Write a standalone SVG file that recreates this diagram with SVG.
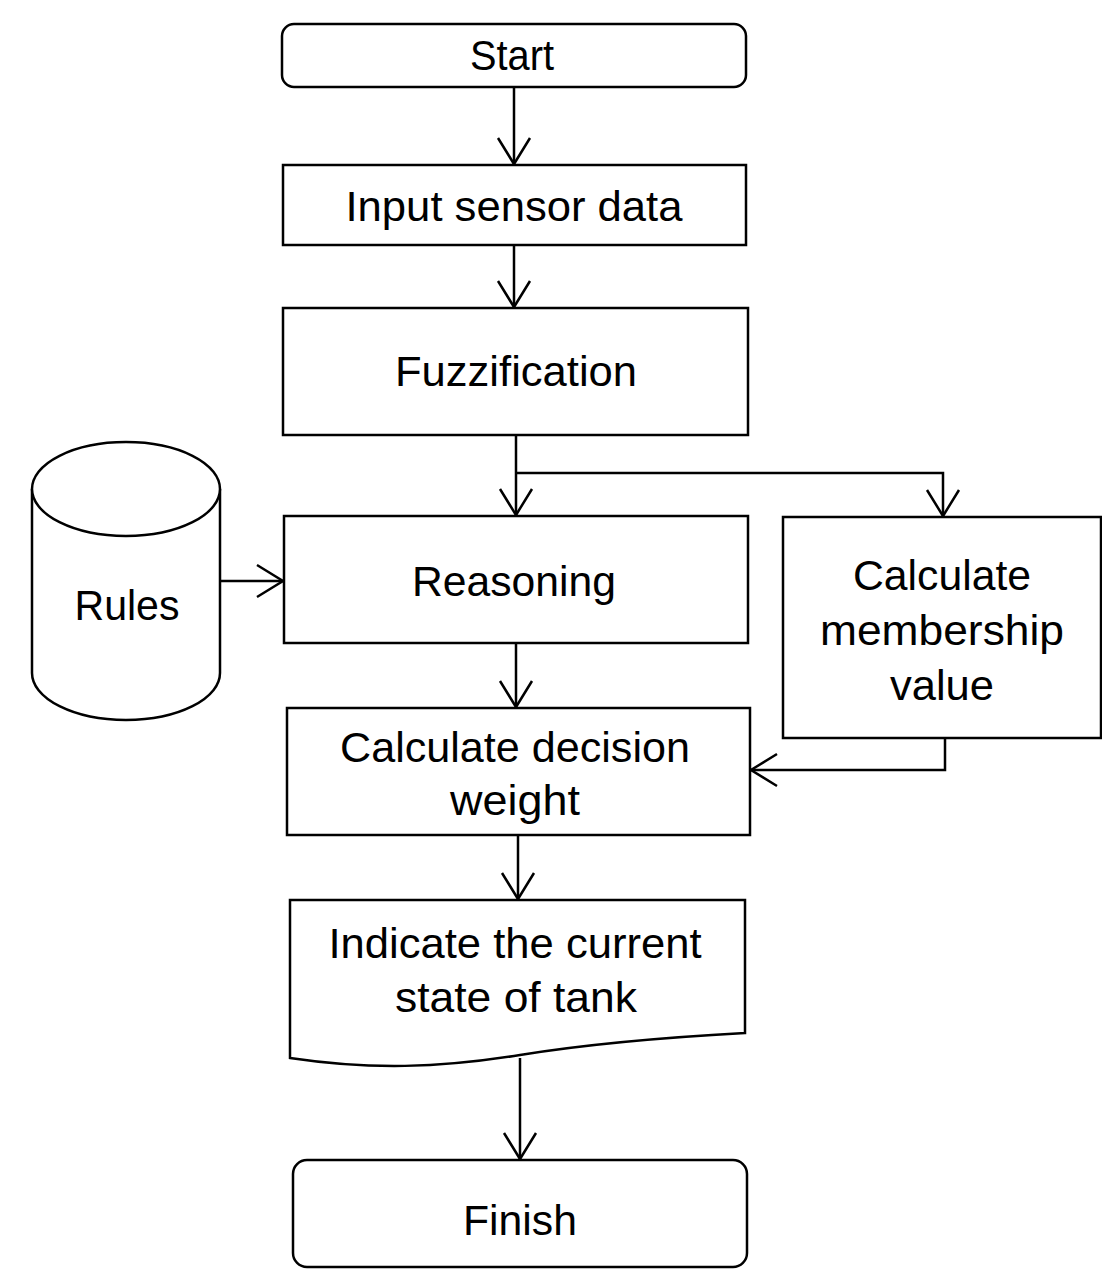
<svg xmlns="http://www.w3.org/2000/svg" width="1102" height="1269" viewBox="0 0 1102 1269">
<style>
.box{fill:#fff;stroke:#000;stroke-width:2.5}
.ln{fill:none;stroke:#000;stroke-width:2.5}
.t{font-family:"Liberation Sans",Arial,sans-serif;font-size:42px;fill:#000;text-anchor:middle}
</style>
<defs>
<marker id="ah" markerUnits="userSpaceOnUse" markerWidth="40" markerHeight="40" viewBox="-30 -20 34 40" refX="0" refY="0" orient="auto">
<path d="M-26,-16 L0,0 L-26,16" fill="none" stroke="#000" stroke-width="2.5"/>
</marker>
</defs>
<g id="connectors">
<path class="ln" d="M514,87 V164" marker-end="url(#ah)"/>
<path class="ln" d="M514,245 V307" marker-end="url(#ah)"/>
<path class="ln" d="M516,435 V515" marker-end="url(#ah)"/>
<path class="ln" d="M516,473 H943 V516" marker-end="url(#ah)"/>
<path class="ln" d="M220,581 H283" marker-end="url(#ah)"/>
<path class="ln" d="M516,643 V707" marker-end="url(#ah)"/>
<path class="ln" d="M945,738 V770 H751" marker-end="url(#ah)"/>
<path class="ln" d="M518,835 V899" marker-end="url(#ah)"/>
<path class="ln" d="M520,1058 V1159" marker-end="url(#ah)"/>
</g>
<g id="start">
<rect class="box" x="282" y="24" width="464" height="63" rx="12"/>
<text class="t" x="512" y="70" textLength="84" lengthAdjust="spacingAndGlyphs">Start</text>
</g>
<g id="input">
<rect class="box" x="283" y="165" width="463" height="80"/>
<text class="t" x="514" y="221" textLength="337" lengthAdjust="spacingAndGlyphs">Input sensor data</text>
</g>
<g id="fuzzification">
<rect class="box" x="283" y="308" width="465" height="127"/>
<text class="t" x="516" y="386" textLength="242" lengthAdjust="spacingAndGlyphs">Fuzzification</text>
</g>
<g id="rules">
<path class="box" d="M32,489 V673 A94,47 0 0 0 220,673 V489"/>
<ellipse class="box" cx="126" cy="489" rx="94" ry="47"/>
<text class="t" x="127" y="620" textLength="105" lengthAdjust="spacingAndGlyphs">Rules</text>
</g>
<g id="reasoning">
<rect class="box" x="284" y="516" width="464" height="127"/>
<text class="t" x="514" y="596" textLength="204" lengthAdjust="spacingAndGlyphs">Reasoning</text>
</g>
<g id="membership">
<rect class="box" x="783" y="517" width="318" height="221"/>
<text class="t" x="942" y="590" textLength="178" lengthAdjust="spacingAndGlyphs">Calculate</text>
<text class="t" x="942" y="645" textLength="244" lengthAdjust="spacingAndGlyphs">membership</text>
<text class="t" x="942" y="700" textLength="104" lengthAdjust="spacingAndGlyphs">value</text>
</g>
<g id="decision">
<rect class="box" x="287" y="708" width="463" height="127"/>
<text class="t" x="515" y="762" textLength="350" lengthAdjust="spacingAndGlyphs">Calculate decision</text>
<text class="t" x="515" y="815" textLength="130" lengthAdjust="spacingAndGlyphs">weight</text>
</g>
<g id="indicate">
<path class="box" d="M290,900 H745 V1033 C690,1036 600,1042 520,1055 C440,1068 370,1070 290,1058 Z"/>
<text class="t" x="515" y="958" textLength="373" lengthAdjust="spacingAndGlyphs">Indicate the current</text>
<text class="t" x="516" y="1012" textLength="242" lengthAdjust="spacingAndGlyphs">state of tank</text>
</g>
<g id="finish">
<rect class="box" x="293" y="1160" width="454" height="107" rx="14"/>
<text class="t" x="520" y="1235" textLength="114" lengthAdjust="spacingAndGlyphs">Finish</text>
</g>
</svg>
